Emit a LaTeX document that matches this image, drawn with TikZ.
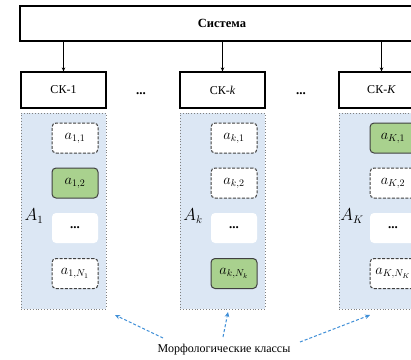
\documentclass[tikz,border=0pt]{standalone}
\usepackage{fontspec}
\setmainfont{Liberation Serif}
\usetikzlibrary{arrows.meta}
\definecolor{panelblue}{HTML}{DCE7F4}
\definecolor{boxgreen}{HTML}{A9D18E}
\definecolor{arrowblue}{HTML}{3F8FD8}
\definecolor{edgegray}{HTML}{404040}
\tikzset{
  sysbox/.style={draw=black, line width=1.1pt, fill=white, minimum height=35pt, inner sep=0pt, font=\fontsize{12.5}{14}\selectfont\bfseries},
  ckbox/.style={draw=black, line width=1.1pt, fill=white, minimum width=85pt, minimum height=36pt, inner sep=0pt, font=\fontsize{12}{14}\selectfont},
  panel/.style={draw=gray, dotted, line width=0.9pt, fill=panelblue, minimum width=85pt, minimum height=196pt, inner sep=0pt},
  elemdash/.style={draw=edgegray, dashed, dash pattern=on 3pt off 1.5pt, line width=1pt, fill=white, rounded corners=4pt, minimum width=46pt, minimum height=30pt, inner sep=0pt, font=\fontsize{14.5}{16}\selectfont},
  elemgreen/.style={draw=edgegray, line width=1pt, fill=boxgreen, rounded corners=4pt, minimum width=46pt, minimum height=30pt, inner sep=0pt, font=\fontsize{14.5}{16}\selectfont},
  elemdots/.style={fill=white, rounded corners=4pt, minimum width=46pt, minimum height=30pt, inner sep=0pt, font=\fontsize{13}{16}\selectfont\bfseries},
  alabel/.style={font=\fontsize{16}{18}\selectfont, inner sep=0pt},
  dotslabel/.style={font=\fontsize{13}{14}\selectfont\bfseries, inner sep=0pt},
  sysarrow/.style={draw=black, line width=1.1pt, -{Stealth[length=4pt,width=3.5pt]}},
  bluearrow/.style={draw=arrowblue, line width=1pt, dashed, dash pattern=on 3pt off 2pt, -{Stealth[length=5pt,width=4.5pt]}},
}
\begin{document}
\begin{tikzpicture}[x=1pt,y=-1pt]
\useasboundingbox (0,0) rectangle (411,359);
\clip (0,0) rectangle (411,359);
\fill[white] (0,0) rectangle (411,359);
% system
\node[sysbox, minimum width=404pt] (sys) at (222,23.5) {Система};
% CK boxes
\node[ckbox] (ck1) at (63.5,90) {СК-1};
\node[ckbox] (ckk) at (222.5,90) {СК-\textit{k}};
\node[ckbox] (ckK) at (381.5,90) {СК-\textit{K}};
\node[dotslabel] (d1) at (141,94) {...};
\node[dotslabel] (d2) at (301,94) {...};
\draw[sysarrow] (sys.south -| ck1) -- (ck1.north);
\draw[sysarrow] (sys.south -| ckk) -- (ckk.north);
\draw[sysarrow] (sys.south -| ckK) -- (ckK.north);
% panels
\node[panel] (p1) at (63.5,211) {};
\node[panel] (pk) at (222.5,211) {};
\node[panel] (pK) at (381.5,211) {};
% panel 1
\node[alabel] (A1) at (34,216) {$A_1$};
\node[elemdash] (e11) at (75,138) {$a_{1,1}$};
\node[elemgreen] (e12) at (75,183) {$a_{1,2}$};
\node[elemdots] (e1d) at (75,228) {...};
\node[elemdash] (e1n) at (75,273.5) {$a_{1,N_1}$};
% panel k
\node[alabel] (Ak) at (193,216) {$A_k$};
\node[elemdash] (ek1) at (234,138) {$a_{k,1}$};
\node[elemdash] (ek2) at (234,183) {$a_{k,2}$};
\node[elemdots] (ekd) at (234,228) {...};
\node[elemgreen] (ekn) at (234,273.5) {$a_{k,N_k}$};
% panel K
\node[alabel] (AK) at (352,216) {$A_K$};
\node[elemgreen] (eK1) at (393,138) {$a_{K,1}$};
\node[elemdash] (eK2) at (393,183) {$a_{K,2}$};
\node[elemdots] (eKd) at (393,228) {...};
\node[elemdash] (eKn) at (393,273.5) {$a_{K,N_K}$};
% bottom label and arrows
\node[font=\fontsize{12}{14}\selectfont, inner sep=0pt] (mk) at (224,350) {Морфологические классы};
\coordinate (s1) at (163,338);
\coordinate (t1) at (115,315);
\coordinate (s2) at (223,337);
\coordinate (t2) at (228,312);
\coordinate (s3) at (300,342);
\coordinate (t3) at (370,315);
\draw[bluearrow] (s1) -- (t1);
\draw[bluearrow] (s2) -- (t2);
\draw[bluearrow] (s3) -- (t3);
\end{tikzpicture}
\end{document}
